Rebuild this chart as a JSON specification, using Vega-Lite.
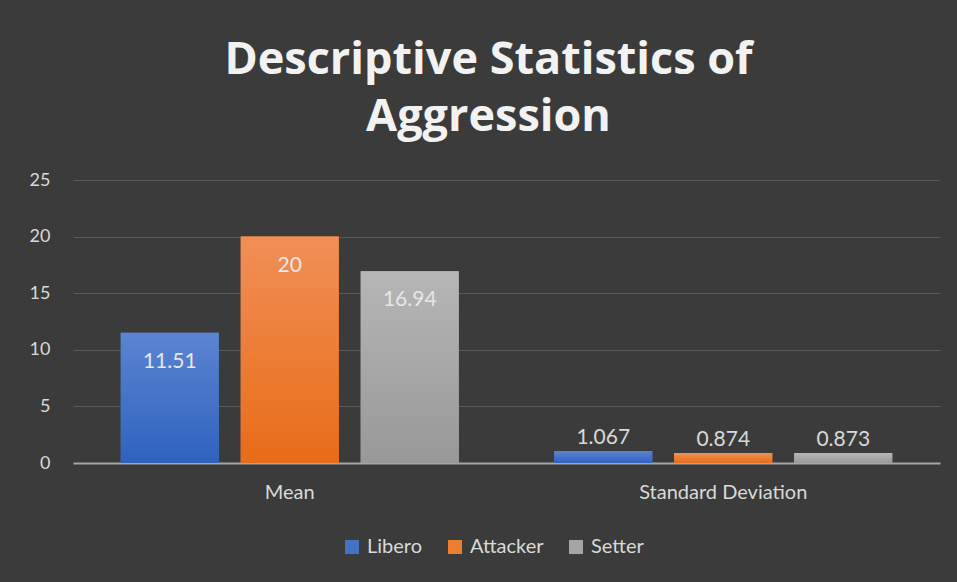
{
  "$schema": "https://vega.github.io/schema/vega-lite/v6.json",
  "width": 867,
  "height": 283,
  "autosize": {"type": "none"},
  "padding": {"left": 73, "top": 180, "right": 17, "bottom": 119},
  "background": "#3b3b3b",
  "title": {
    "text": ["Descriptive Statistics of", "Aggression"],
    "font": "Open Sans",
    "fontSize": 45,
    "fontWeight": "bold",
    "color": "#f2f2f2",
    "lineHeight": 57,
    "anchor": "middle",
    "dx": -18,
    "offset": 31
  },
  "config": {
    "view": {"stroke": null},
    "font": "Lato"
  },
  "data": {
    "values": [
      {"stat": "Mean", "role": "Libero", "value": 11.51},
      {"stat": "Mean", "role": "Attacker", "value": 20},
      {"stat": "Mean", "role": "Setter", "value": 16.94},
      {"stat": "Standard Deviation", "role": "Libero", "value": 1.067},
      {"stat": "Standard Deviation", "role": "Attacker", "value": 0.874},
      {"stat": "Standard Deviation", "role": "Setter", "value": 0.873}
    ]
  },
  "encoding": {
    "x": {
      "field": "stat",
      "type": "nominal",
      "sort": ["Mean", "Standard Deviation"],
      "scale": {"paddingInner": 0, "paddingOuter": 0},
      "axis": {
        "title": null,
        "labelAngle": 0,
        "labelFontSize": 20,
        "labelColor": "#d9d9d9",
        "labelPadding": 19,
        "ticks": false,
        "domainColor": "#a6a6a6",
        "domainWidth": 2,
        "grid": false
      }
    },
    "xOffset": {
      "field": "role",
      "type": "nominal",
      "sort": ["Libero", "Attacker", "Setter"],
      "scale": {"paddingInner": 0.183, "paddingOuter": 0.398}
    },
    "y": {
      "field": "value",
      "type": "quantitative",
      "scale": {"domain": [0, 25]},
      "axis": {
        "title": null,
        "values": [0, 5, 10, 15, 20, 25],
        "labelFontSize": 18,
        "labelColor": "#d9d9d9",
        "labelPadding": 23,
        "ticks": false,
        "domain": false,
        "gridColor": "#595959",
        "gridWidth": 1
      }
    }
  },
  "layer": [
    {
      "mark": {"type": "bar"},
      "encoding": {
        "color": {
          "field": "role",
          "type": "nominal",
          "sort": ["Libero", "Attacker", "Setter"],
          "scale": {"domain": ["Libero", "Attacker", "Setter"], "range": ["#4472c4", "#ed7d31", "#a5a5a5"]},
          "legend": {
            "orient": "none",
            "legendX": 269,
            "legendY": 357,
            "direction": "horizontal",
            "title": null,
            "symbolType": "square",
            "symbolSize": 196,
            "symbolStrokeWidth": 0,
            "labelFontSize": 20,
            "labelColor": "#d9d9d9",
            "labelOffset": 5,
            "columnPadding": 22,
            "padding": 0
          }
        }
      }
    },
    {
      "mark": {"type": "bar"},
      "encoding": {
        "fill": {
          "condition": [
            {"test": "datum.role === 'Libero'", "value": {"gradient": "linear", "x1": 0, "y1": 0, "x2": 0, "y2": 1, "stops": [{"offset": 0, "color": "#5c84d2"}, {"offset": 1, "color": "#2f62be"}]}},
            {"test": "datum.role === 'Attacker'", "value": {"gradient": "linear", "x1": 0, "y1": 0, "x2": 0, "y2": 1, "stops": [{"offset": 0, "color": "#f18f57"}, {"offset": 1, "color": "#e86c18"}]}}
          ],
          "value": {"gradient": "linear", "x1": 0, "y1": 0, "x2": 0, "y2": 1, "stops": [{"offset": 0, "color": "#b6b6b6"}, {"offset": 1, "color": "#989898"}]}
        }
      }
    },
    {
      "transform": [{"filter": "datum.stat === 'Mean'"}],
      "mark": {"type": "text", "baseline": "middle", "dy": 29, "fontSize": 21, "color": "#e6e6e6"},
      "encoding": {"text": {"field": "value", "type": "quantitative"}}
    },
    {
      "transform": [{"filter": "datum.stat === 'Standard Deviation'"}],
      "mark": {"type": "text", "baseline": "middle", "dy": -13, "fontSize": 21, "color": "#d9d9d9"},
      "encoding": {"text": {"field": "value", "type": "quantitative"}}
    }
  ]
}
